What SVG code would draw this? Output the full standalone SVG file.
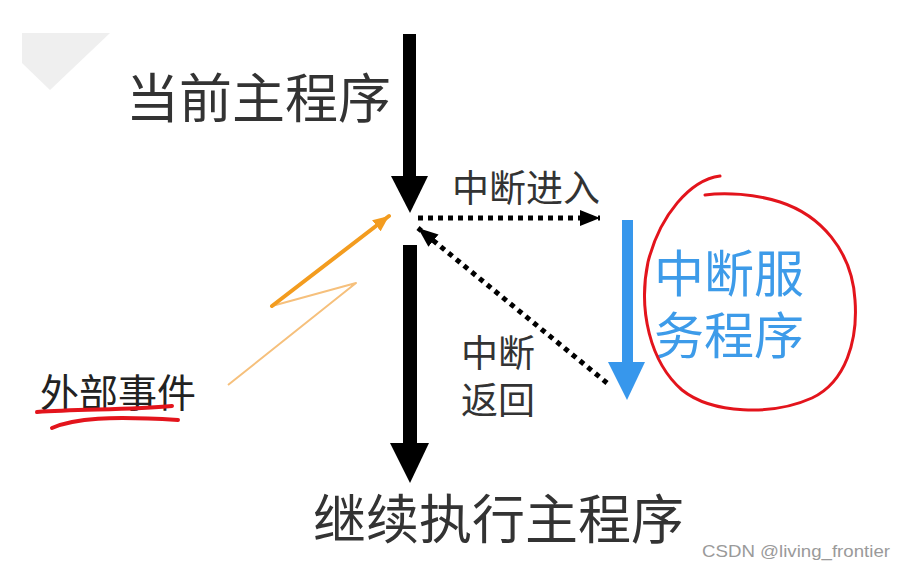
<svg xmlns="http://www.w3.org/2000/svg" width="906" height="570" viewBox="0 0 906 570">
  <style>
    .cjk { font-family: "Noto Sans CJK SC", "Noto Sans", sans-serif; }
    .main { font-size: 53px; fill: #333333; }
    .lbl { font-size: 37px; fill: #333333; }
    .isr { font-size: 50px; fill: #3d9be9; }
    .ev { font-size: 39px; fill: #222222; }
    .dots { fill: none; stroke: #000000; stroke-width: 5; stroke-dasharray: 5 5; }
    .red { fill: none; stroke: #e3141c; stroke-linecap: round; stroke-linejoin: round; }
  </style>
  <defs>
    <marker id="dotHead" viewBox="0 0 20 16" refX="20" refY="8" markerWidth="20" markerHeight="16" markerUnits="userSpaceOnUse" orient="auto">
      <path d="M0,0 L20,8 L0,16 z" fill="#000000"/>
    </marker>
    <marker id="orangeHead" viewBox="0 0 16 14" refX="16" refY="7" markerWidth="16" markerHeight="14" markerUnits="userSpaceOnUse" orient="auto">
      <path d="M0,0 L16,7 L0,14 z" fill="#f39c1f"/>
    </marker>
  </defs>
  <rect x="0" y="0" width="906" height="570" fill="#ffffff"/>
  <polygon points="22,33 110,33 50,90 22,63" fill="#efefef"/>

  <g id="connectors">
    <!-- main program flow -->
    <rect x="403" y="34" width="13" height="144" fill="#000000"/>
    <polygon points="391,176 428,176 410,213" fill="#000000"/>
    <rect x="403" y="245" width="14" height="200" fill="#000000"/>
    <polygon points="390,443 429,443 410,483" fill="#000000"/>
    <!-- interrupt entry -->
    <line class="dots" x1="418" y1="218" x2="600" y2="218" marker-end="url(#dotHead)"/>
    <!-- interrupt return -->
    <line class="dots" x1="607" y1="383" x2="418" y2="228" marker-end="url(#dotHead)"/>
    <!-- ISR flow -->
    <rect x="622" y="220" width="11" height="144" fill="#3797ec"/>
    <polygon points="608,362 645,362 627,400" fill="#3797ec"/>
    <!-- external event lightning -->
    <polyline points="272,306 356,283 228,385" fill="none" stroke="#f6c07c" stroke-width="2" stroke-linejoin="round"/>
    <line x1="272" y1="306" x2="389" y2="216" stroke="#f39c1f" stroke-width="4" stroke-linecap="round" marker-end="url(#orangeHead)"/>
  </g>

  <g id="node-current">
    <text class="cjk main" x="126" y="118">当前主程序</text>
  </g>
  <g id="node-continue">
    <text class="cjk main" x="313" y="539">继续执行主程序</text>
  </g>
  <g id="label-entry">
    <text class="cjk lbl" x="452" y="202">中断进入</text>
  </g>
  <g id="label-return">
    <text class="cjk lbl" x="461" y="367">中断</text>
    <text class="cjk lbl" x="461" y="414">返回</text>
  </g>
  <g id="node-isr">
    <text class="cjk isr" x="654" y="292">中断服</text>
    <text class="cjk isr" x="654" y="354">务程序</text>
    <path class="red" stroke-width="3" d="M720,176 C690,180 660,215 648,262 C638,310 650,362 682,390 C712,414 772,416 812,398 C846,382 858,340 855,300 C852,250 820,215 780,202 C755,194 725,192 705,195"/>
  </g>
  <g id="node-event">
    <text class="cjk ev" x="40" y="407">外部事件</text>
    <path class="red" stroke-width="4" d="M37,412 C80,409 130,410 172,406"/>
    <path class="red" stroke-width="4" d="M52,428 C75,418 110,416 178,420"/>
  </g>
  <text x="702" y="557" font-family="Liberation Sans, Arial, sans-serif" font-size="17" fill="#9a9a9a" textLength="188" lengthAdjust="spacingAndGlyphs">CSDN @living_frontier</text>
</svg>
